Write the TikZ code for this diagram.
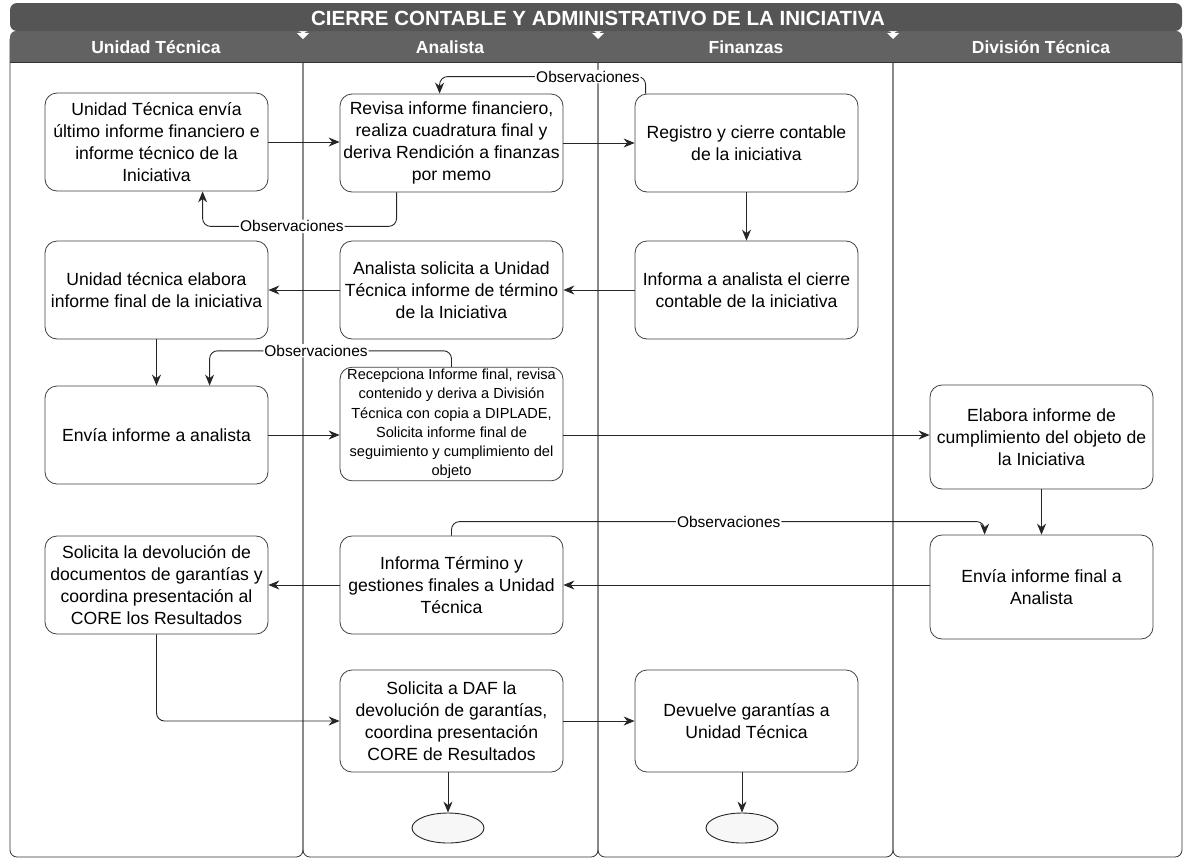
\documentclass[tikz,border=0pt]{standalone}
\usepackage{fontspec}
\setmainfont{Liberation Sans}
\usetikzlibrary{arrows.meta,shapes.geometric,calc}
\definecolor{titlebar}{HTML}{555555}
\definecolor{headbar}{HTML}{626262}
\begin{document}
\begin{tikzpicture}[x=1pt,y=-1pt,
  stepbox/.style={draw=black!75, line width=0.8pt, rounded corners=12pt, fill=white,
    minimum width=223pt, minimum height=98pt, align=center,
    font=\fontsize{17.6}{22}\selectfont, inner sep=2pt},
  smallbox/.style={stepbox, font=\fontsize{14.6}{19.2}\selectfont},
  flow/.style={draw=black!85, line width=0.9pt, -{Stealth[length=11pt,width=9pt]}},
  obs/.style={flow, rounded corners=8pt},
  obslabel/.style={fill=white, inner sep=1pt, font=\fontsize{15.5}{16}\selectfont},
  lane/.style={draw=black!80, line width=0.8pt, rounded corners=7pt},
  lanehead/.style={text=white, font=\fontsize{17.5}{19}\selectfont\bfseries},
  endnode/.style={draw=black!85, line width=0.9pt, ellipse, minimum width=72pt,
    minimum height=30pt, fill=black!3}
]
\useasboundingbox (0,0) rectangle (1186,863);

% swimlanes
\draw[lane] (10,33) rectangle (303,857);
\draw[lane] (303,33) rectangle (598,857);
\draw[lane] (598,33) rectangle (893,857);
\draw[lane] (893,33) rectangle (1182,857);

% lane headers
\foreach \xa/\xb in {10/303, 303/598, 598/893, 893/1182}{
  \fill[headbar, rounded corners=6pt] (\xa,31) rectangle (\xb,62);
  \fill[headbar] (\xa,45) rectangle (\xb,62);
  \draw[black!80, line width=0.8pt] (\xa,62) -- (\xb,62);
}
\foreach \xm in {303, 598, 893}{
  \fill[white] (\xm-6,33) -- (\xm+6,33) -- (\xm,39) -- cycle;
}

% title bar
\fill[titlebar, rounded corners=7pt] (10,3) rectangle (1182,31);
\node[text=white, font=\fontsize{20.5}{22}\selectfont\bfseries] (title) at (598,18)
  {CIERRE CONTABLE Y ADMINISTRATIVO DE LA INICIATIVA};

\node[lanehead] (hUT) at (156,47) {Unidad Técnica};
\node[lanehead] (hAN) at (450,47) {Analista};
\node[lanehead] (hFI) at (746,47) {Finanzas};
\node[lanehead] (hDT) at (1041,47) {División Técnica};

% steps
\node[stepbox] (A1) at (156.5,142) {Unidad Técnica envía\\último informe financiero e\\informe técnico de la\\Iniciativa};
\node[stepbox] (B1) at (451.5,143) {Revisa informe financiero,\\realiza cuadratura final y\\deriva Rendición a finanzas\\por memo};
\node[stepbox] (C1) at (746.5,143) {Registro y cierre contable\\de la iniciativa};

\node[stepbox] (A2) at (156.5,290) {Unidad técnica elabora\\informe final de la iniciativa};
\node[stepbox] (B2) at (451.5,290) {Analista solicita a Unidad\\Técnica informe de término\\de la Iniciativa};
\node[stepbox] (C2) at (746.5,290) {Informa a analista el cierre\\contable de la iniciativa};

\node[stepbox] (A3) at (156.5,435) {Envía informe a analista};
\node[smallbox, minimum height=102pt] (B3) at (451.5,424) {Recepciona Informe final, revisa\\contenido y deriva a División\\Técnica con copia a DIPLADE,\\Solicita informe final de\\seguimiento y cumplimiento del\\objeto};
\node[stepbox, minimum height=104pt] (D3) at (1041.5,437) {Elabora informe de\\cumplimiento del objeto de\\la Iniciativa};

\node[stepbox] (A4) at (156.5,585) {Solicita la devolución de\\documentos de garantías y\\coordina presentación al\\CORE los Resultados};
\node[stepbox] (B4) at (451.5,585) {Informa Término y\\gestiones finales a Unidad\\Técnica};
\node[stepbox, minimum height=104pt] (D4) at (1041.5,587) {Envía informe final a\\Analista};

\node[stepbox, minimum height=102pt] (B5) at (451.5,721) {Solicita a DAF la\\devolución de garantías,\\coordina presentación\\CORE de Resultados};
\node[stepbox, minimum height=102pt] (C5) at (746.5,721) {Devuelve garantías a\\Unidad Técnica};

\node[endnode] (E1) at (448,828) {};
\node[endnode] (E2) at (742,828) {};

% main flow
\draw[flow] (A1) -- (B1.west |- A1);
\draw[flow] (B1) -- (C1);
\draw[flow] (C1) -- (C2);
\draw[flow] (C2) -- (B2);
\draw[flow] (B2) -- (A2);
\draw[flow] (A2) -- (A3);
\draw[flow] (A3.east) -- (A3.east -| B3.west);
\draw[flow] (A3.east -| B3.east) -- (A3.east -| D3.west);
\draw[flow] (D3) -- (D4);
\draw[flow] (B4.east -| D4.west) -- (B4.east);
\draw[flow] (B4) -- (A4);
\draw[flow, rounded corners=8pt] (A4.south) |- (B5.west);
\draw[flow] (B5) -- (C5);
\draw[flow] (B5.south -| E1) -- (E1);
\draw[flow] (C5.south -| E2) -- (E2);

% returns with observations
\draw[obs] ($(B1.south west)+(57,0)$) -- ++(0,34) -| node[obslabel, pos=0.27] {Observaciones} ($(A1.south west)+(158,0)$);
\draw[obs] ($(C1.north west)+(11,0)$) -- ++(0,-17) -| node[obslabel, pos=0.14] {Observaciones} ($(B1.north west)+(100,0)$);
\draw[obs] (B3.north) -- ++(0,-16) -| node[obslabel, pos=0.28] {Observaciones} ($(A3.north west)+(165,0)$);
\draw[obs] (B4.north) -- ++(0,-14) -| node[obslabel, pos=0.26] {Observaciones} ($(D4.north west)+(55,0)$);
\end{tikzpicture}
\end{document}
